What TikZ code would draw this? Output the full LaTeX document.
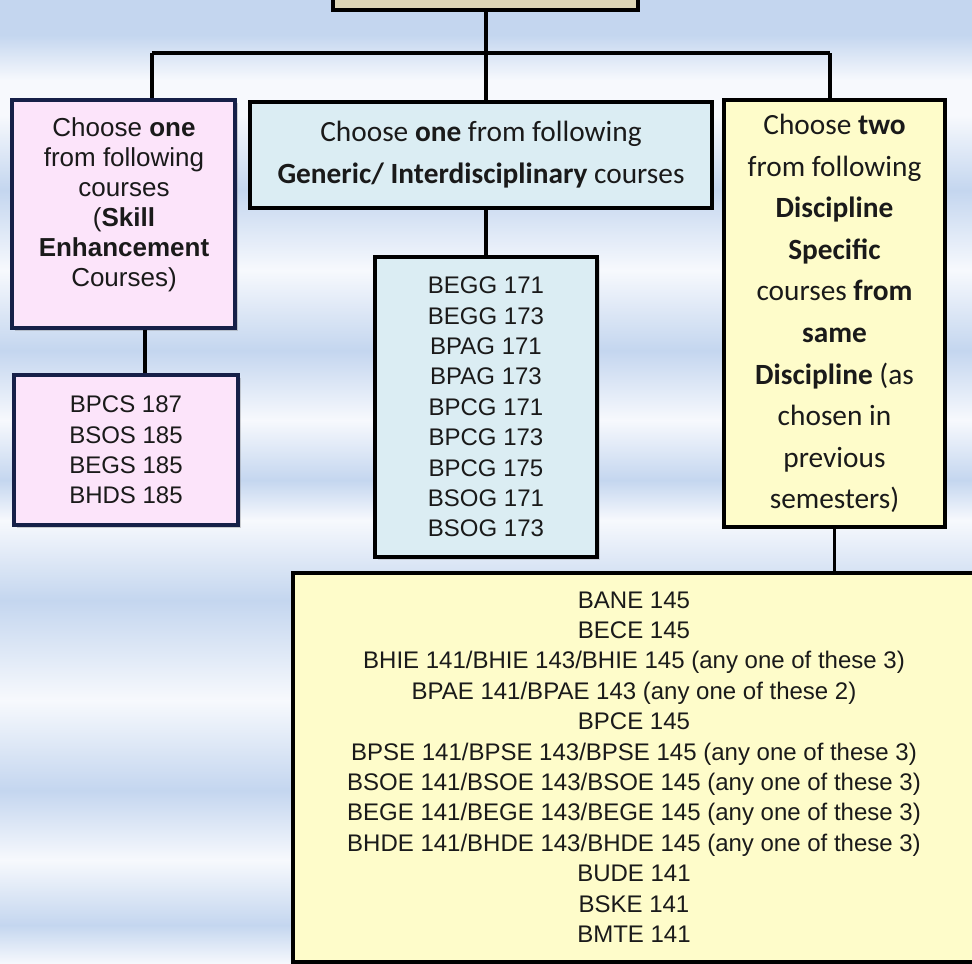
\documentclass[tikz,border=0pt]{standalone}
\usepackage{fontspec}
\setmainfont{Liberation Sans}
\newfontfamily\calfont{Carlito}
\usetikzlibrary{shadows}
\definecolor{bgB}{RGB}{196,214,239}
\definecolor{bgW}{RGB}{247,249,253}
\definecolor{topfill}{RGB}{221,214,183}
\definecolor{pinkfill}{RGB}{252,228,250}
\definecolor{bluefill}{RGB}{219,237,243}
\definecolor{yelfill}{RGB}{254,252,202}
\definecolor{navy}{RGB}{22,32,72}
\definecolor{txt}{RGB}{26,26,26}
\tikzset{
  box/.style={draw=black, line width=2.3pt, rectangle, align=center, text=txt, inner sep=0pt, anchor=center},
  navybox/.style={box, draw=navy, drop shadow={shadow xshift=2.5pt, shadow yshift=-2.5pt, opacity=0.35}},
  listfont/.style={font=\fontsize{18}{22.8}\selectfont},
  calhead/.style={font=\calfont\fontsize{22}{31.2}\selectfont},
  conn/.style={draw=black, line width=2.3pt},
  plaintext/.style={text=txt, align=center, anchor=center, inner sep=0pt},
}
\begin{document}
\begin{tikzpicture}[x=0.75pt,y=-0.75pt]
\useasboundingbox (0,0) rectangle (972,964);
\clip (0,0) rectangle (972,964);
% background bands
\foreach \a/\ca/\b/\cb in {0/bgB/35/bgB,35/bgB/80/bgW,80/bgW/115/bgW,115/bgW/190/bgB,190/bgB/270/bgW,270/bgW/350/bgB,350/bgB/420/bgW,420/bgW/480/bgB,480/bgB/520/bgW,520/bgW/600/bgB,600/bgB/700/bgW,700/bgW/790/bgB,790/bgB/860/bgW,860/bgW/925/bgB,925/bgB/964/bgW}
  \shade[top color=\ca, bottom color=\cb] (0,\a) rectangle (972,\b+0.5);
% nodes
\node[box, fill=topfill, minimum width=305*0.75pt, minimum height=40*0.75pt] (top) at (485.5,-10) {};
\node[navybox, fill=pinkfill, minimum width=223*0.75pt, minimum height=228*0.75pt] (sec) at (123.5,214) {};
\node[plaintext, font=\fontsize{19.5}{22.5}\selectfont] (sect) at (124,205)
  {Choose \textbf{one}\\from following\\courses\\(\textbf{Skill}\\\textbf{Enhancement}\\Courses)};
\node[navybox, fill=pinkfill, minimum width=224*0.75pt, minimum height=150*0.75pt, listfont] (secl) at (126,450)
  {BPCS 187\\BSOS 185\\BEGS 185\\BHDS 185};
\node[box, fill=bluefill, minimum width=462*0.75pt, minimum height=106*0.75pt, calhead, font=\calfont\fontsize{22}{31.5}\selectfont] (gen) at (481,155)
  {Choose \textbf{one} from following\\\textbf{Generic/ Interdisciplinary} courses};
\node[box, fill=bluefill, minimum width=222*0.75pt, minimum height=300*0.75pt, listfont, drop shadow={shadow xshift=2pt, shadow yshift=-2pt, opacity=0.25}] (genl) at (486,407)
  {BEGG 171\\BEGG 173\\BPAG 171\\BPAG 173\\BPCG 171\\BPCG 173\\BPCG 175\\BSOG 171\\BSOG 173};
\node[box, fill=yelfill, minimum width=221*0.75pt, minimum height=427*0.75pt, calhead] (dsc) at (834.5,313.5)
  {Choose \textbf{two}\\from following\\\textbf{Discipline}\\\textbf{Specific}\\courses \textbf{from}\\\textbf{same}\\\textbf{Discipline} (as\\chosen in\\previous\\semesters)};
\node[box, fill=yelfill, minimum width=717*0.75pt, minimum height=389*0.75pt] (dscl) at (651.5,767.5) {};
\node[plaintext, listfont] (dsct) at (634,767)
  {BANE 145\\BECE 145\\BHIE 141/BHIE 143/BHIE 145 (any one of these 3)\\BPAE 141/BPAE 143 (any one of these 2)\\BPCE 145\\BPSE 141/BPSE 143/BPSE 145 (any one of these 3)\\BSOE 141/BSOE 143/BSOE 145 (any one of these 3)\\BEGE 141/BEGE 143/BEGE 145 (any one of these 3)\\BHDE 141/BHDE 143/BHDE 145 (any one of these 3)\\BUDE 141\\BSKE 141\\BMTE 141};
% connectors
\coordinate (bus) at (486,53);
\coordinate (busL) at (152,53);
\coordinate (busR) at (830,53);
\coordinate (xl) at (145,0);
\draw[conn] (top.south -| bus) -- (bus);
\draw[conn] (busL) -- (busR);
\draw[conn] (busL) -- (busL |- sec.north);
\draw[conn] (bus) -- (bus |- gen.north);
\draw[conn] (busR) -- (busR |- dsc.north);
\draw[conn] (xl |- sec.south) -- (xl |- secl.north);
\draw[conn] (bus |- gen.south) -- (bus |- genl.north);
\draw[conn] (dsc.south) -- (dsc.south |- dscl.north);
\end{tikzpicture}
\end{document}
